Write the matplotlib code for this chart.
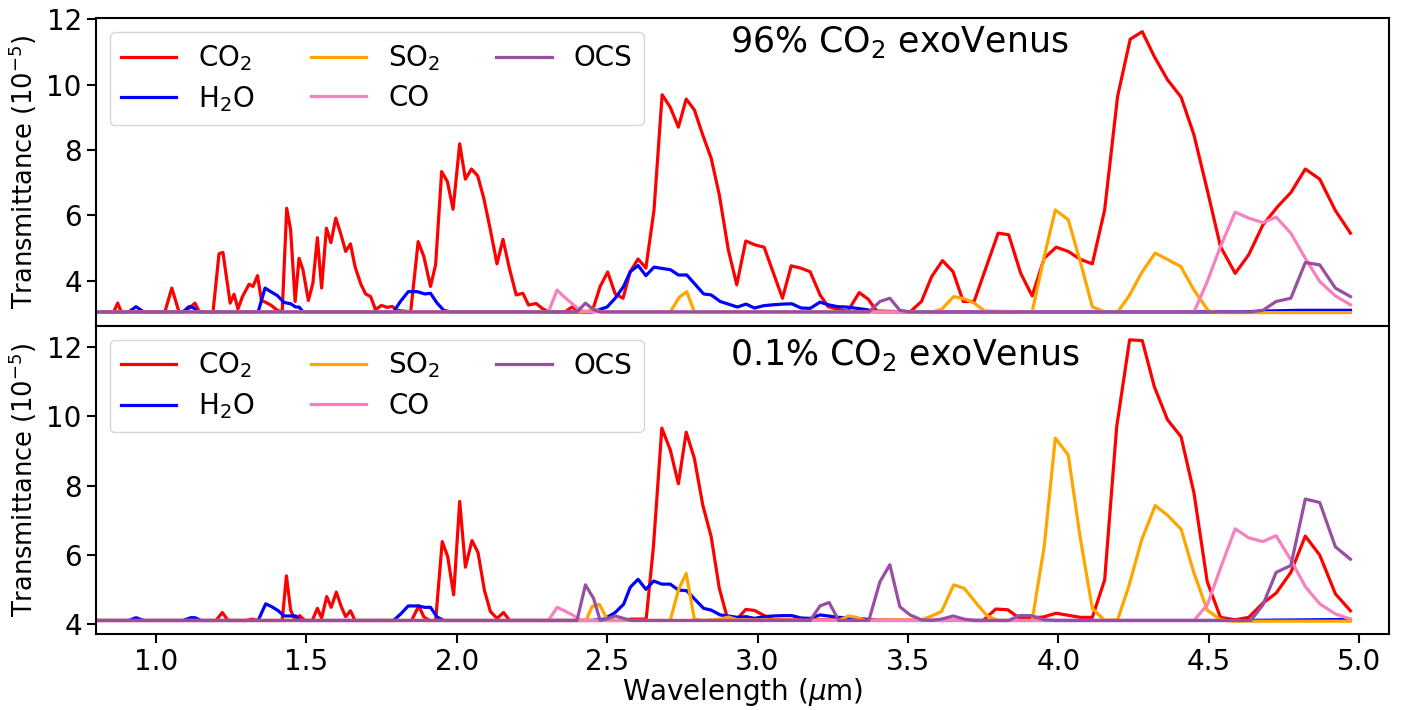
import matplotlib
matplotlib.use("Agg")
import matplotlib.pyplot as plt

# ---------------- data ----------------
species = ["CO$_2$", "H$_2$O", "SO$_2$", "CO", "OCS"]
colors = ["#ff0000", "#0000ff", "#ffa500", "#f781bf", "#984ea3"]
titles = ["96% CO$_2$ exoVenus", "0.1% CO$_2$ exoVenus"]
xticks = [1.0, 1.5, 2.0, 2.5, 3.0, 3.5, 4.0, 4.5, 5.0]
top_yticks = [4, 6, 8, 10, 12]
bot_yticks = [4, 6, 8, 10, 12]

# ---- top panel: 96% CO2 ----
co2_top_x = [0.80, 0.86, 0.873, 0.885, 1.03, 1.053, 1.077, 1.10, 1.13, 1.145, 1.19, 1.21, 1.223, 1.247, 1.26, 1.273, 1.288, 1.31, 1.323, 1.338, 1.351, 1.366, 1.382, 1.404, 1.42, 1.435, 1.448, 1.463, 1.476, 1.489, 1.507, 1.522, 1.537, 1.551, 1.567, 1.582, 1.598, 1.614, 1.631, 1.647, 1.662, 1.681, 1.697, 1.714, 1.730, 1.75, 1.769, 1.786, 1.802, 1.847, 1.872, 1.891, 1.913, 1.930, 1.950, 1.969, 1.988, 2.010, 2.029, 2.049, 2.07, 2.090, 2.112, 2.134, 2.154, 2.175, 2.198, 2.220, 2.239, 2.264, 2.284, 2.305, 2.36, 2.383, 2.41, 2.45, 2.477, 2.502, 2.527, 2.553, 2.577, 2.603, 2.629, 2.656, 2.683, 2.71, 2.737, 2.763, 2.790, 2.818, 2.846, 2.873, 2.903, 2.931, 2.961, 2.992, 3.022, 3.053, 3.083, 3.112, 3.144, 3.175, 3.208, 3.235, 3.267, 3.30, 3.338, 3.368, 3.396, 3.507, 3.545, 3.579, 3.615, 3.650, 3.684, 3.720, 3.755, 3.800, 3.835, 3.875, 3.913, 3.953, 3.993, 4.033, 4.073, 4.113, 4.154, 4.197, 4.239, 4.279, 4.319, 4.363, 4.408, 4.451, 4.495, 4.539, 4.588, 4.633, 4.680, 4.729, 4.773, 4.821, 4.869, 4.921, 4.971]
co2_top_y = [3.05, 3.05, 3.32, 3.05, 3.05, 3.78, 3.05, 3.08, 3.32, 3.05, 3.05, 4.83, 4.87, 3.32, 3.59, 3.14, 3.52, 3.90, 3.83, 4.16, 3.40, 3.34, 3.26, 3.10, 3.05, 6.22, 5.56, 3.37, 4.69, 4.34, 3.40, 3.93, 5.32, 3.78, 5.61, 5.17, 5.92, 5.46, 4.90, 5.13, 4.44, 3.91, 3.60, 3.52, 3.12, 3.25, 3.19, 3.22, 3.10, 3.05, 5.20, 4.74, 3.83, 4.49, 7.34, 7.04, 6.19, 8.19, 7.11, 7.42, 7.21, 6.53, 5.56, 4.52, 5.27, 4.39, 3.57, 3.62, 3.26, 3.31, 3.16, 3.05, 3.05, 3.20, 3.05, 3.05, 3.83, 4.27, 3.60, 3.47, 4.28, 4.67, 4.39, 6.17, 9.69, 9.31, 8.70, 9.56, 9.23, 8.46, 7.75, 6.63, 4.95, 3.88, 5.22, 5.10, 5.03, 4.24, 3.47, 4.46, 4.39, 4.28, 3.57, 3.21, 3.13, 3.07, 3.64, 3.44, 3.08, 3.05, 3.37, 4.13, 4.62, 4.28, 3.37, 3.37, 4.28, 5.46, 5.41, 4.23, 3.54, 4.69, 5.03, 4.90, 4.66, 4.52, 6.17, 9.64, 11.39, 11.62, 10.86, 10.15, 9.62, 8.46, 6.78, 5.05, 4.23, 4.80, 5.71, 6.27, 6.70, 7.42, 7.11, 6.15, 5.46]

h2o_top_x = [0.80, 0.91, 0.934, 0.96, 1.09, 1.11, 1.125, 1.14, 1.34, 1.363, 1.382, 1.404, 1.426, 1.448, 1.465, 1.476, 1.49, 1.79, 1.813, 1.839, 1.869, 1.894, 1.913, 1.935, 1.957, 1.98, 2.45, 2.50, 2.527, 2.555, 2.577, 2.603, 2.629, 2.656, 2.683, 2.711, 2.737, 2.765, 2.794, 2.821, 2.846, 2.876, 2.903, 2.933, 2.962, 2.99, 3.02, 3.053, 3.086, 3.114, 3.145, 3.175, 3.208, 3.235, 3.267, 3.296, 3.33, 3.363, 3.39, 4.60, 4.70, 4.80, 4.971]
h2o_top_y = [3.05, 3.05, 3.21, 3.05, 3.05, 3.21, 3.18, 3.05, 3.05, 3.78, 3.67, 3.55, 3.34, 3.30, 3.20, 3.20, 3.05, 3.05, 3.37, 3.67, 3.67, 3.60, 3.62, 3.32, 3.10, 3.05, 3.05, 3.20, 3.47, 3.83, 4.28, 4.47, 4.16, 4.42, 4.38, 4.34, 4.18, 4.18, 3.88, 3.60, 3.57, 3.37, 3.29, 3.20, 3.29, 3.17, 3.24, 3.27, 3.29, 3.30, 3.17, 3.16, 3.35, 3.27, 3.21, 3.20, 3.16, 3.12, 3.05, 3.05, 3.08, 3.10, 3.10]

so2_top_x = [0.80, 2.43, 2.455, 2.48, 2.71, 2.74, 2.765, 2.79, 3.58, 3.612, 3.652, 3.687, 3.719, 3.755, 3.913, 3.953, 3.990, 4.033, 4.073, 4.113, 4.154, 4.197, 4.234, 4.277, 4.322, 4.362, 4.407, 4.451, 4.499, 4.54, 4.971]
so2_top_y = [3.05, 3.05, 3.15, 3.05, 3.05, 3.50, 3.67, 3.05, 3.05, 3.13, 3.52, 3.45, 3.33, 3.08, 3.05, 4.74, 6.17, 5.87, 4.59, 3.21, 3.05, 3.05, 3.52, 4.25, 4.85, 4.66, 4.44, 3.72, 3.08, 3.03, 3.03]

co_top_x = [0.80, 2.305, 2.334, 2.356, 2.383, 2.41, 2.44, 4.451, 4.495, 4.539, 4.588, 4.633, 4.680, 4.724, 4.773, 4.821, 4.869, 4.921, 4.971]
co_top_y = [3.05, 3.05, 3.72, 3.52, 3.31, 3.10, 3.05, 3.05, 3.98, 5.05, 6.10, 5.92, 5.78, 5.95, 5.46, 4.69, 3.98, 3.54, 3.27]

ocs_top_x = [0.80, 2.40, 2.428, 2.455, 2.477, 3.37, 3.407, 3.44, 3.473, 3.507, 4.64, 4.680, 4.724, 4.773, 4.821, 4.869, 4.921, 4.971]
ocs_top_y = [3.05, 3.05, 3.32, 3.12, 3.05, 3.05, 3.37, 3.47, 3.10, 3.05, 3.05, 3.10, 3.37, 3.47, 4.56, 4.49, 3.78, 3.52]

# ---- bottom panel: 0.1% CO2 ----
co2_bot_x = [0.80, 1.20, 1.221, 1.24, 1.30, 1.32, 1.34, 1.42, 1.434, 1.448, 1.463, 1.478, 1.495, 1.52, 1.537, 1.551, 1.568, 1.583, 1.60, 1.617, 1.631, 1.647, 1.662, 1.85, 1.874, 1.891, 1.91, 1.93, 1.952, 1.970, 1.990, 2.010, 2.029, 2.051, 2.071, 2.092, 2.112, 2.134, 2.156, 2.176, 2.55, 2.58, 2.63, 2.654, 2.682, 2.71, 2.737, 2.763, 2.79, 2.818, 2.846, 2.873, 2.898, 2.93, 2.961, 2.99, 3.025, 3.053, 3.75, 3.792, 3.832, 3.872, 3.95, 3.993, 4.033, 4.073, 4.113, 4.154, 4.194, 4.237, 4.279, 4.319, 4.363, 4.408, 4.451, 4.495, 4.539, 4.588, 4.633, 4.680, 4.724, 4.773, 4.821, 4.869, 4.921, 4.971]
co2_bot_y = [4.10, 4.10, 4.33, 4.10, 4.10, 4.14, 4.10, 4.10, 5.39, 4.40, 4.10, 4.24, 4.10, 4.10, 4.45, 4.17, 4.79, 4.48, 4.92, 4.48, 4.21, 4.38, 4.10, 4.10, 4.52, 4.20, 4.10, 4.10, 6.38, 5.95, 4.84, 7.54, 5.64, 6.41, 6.06, 4.98, 4.36, 4.16, 4.33, 4.10, 4.10, 4.14, 4.14, 6.23, 9.66, 9.03, 8.05, 9.54, 8.79, 7.44, 6.52, 5.03, 4.23, 4.12, 4.42, 4.39, 4.23, 4.12, 4.10, 4.43, 4.41, 4.16, 4.20, 4.31, 4.25, 4.19, 4.19, 5.27, 9.70, 12.21, 12.19, 10.86, 9.90, 9.41, 7.78, 5.22, 4.19, 4.12, 4.19, 4.60, 4.89, 5.49, 6.54, 5.99, 4.87, 4.38]

h2o_bot_x = [0.80, 0.91, 0.934, 0.96, 1.09, 1.116, 1.13, 1.15, 1.34, 1.365, 1.385, 1.407, 1.426, 1.465, 1.48, 1.79, 1.813, 1.839, 1.872, 1.894, 1.913, 1.935, 1.957, 2.45, 2.49, 2.527, 2.555, 2.577, 2.603, 2.629, 2.655, 2.682, 2.71, 2.737, 2.765, 2.794, 2.821, 2.846, 2.876, 2.903, 2.933, 2.962, 2.99, 3.022, 3.053, 3.086, 3.114, 3.145, 3.175, 3.208, 3.235, 3.267, 3.296, 3.33, 3.36, 3.39, 4.60, 4.971]
h2o_bot_y = [4.10, 4.10, 4.18, 4.10, 4.10, 4.18, 4.18, 4.10, 4.10, 4.58, 4.50, 4.38, 4.23, 4.23, 4.10, 4.10, 4.28, 4.52, 4.52, 4.48, 4.48, 4.20, 4.10, 4.10, 4.14, 4.33, 4.57, 5.06, 5.29, 5.00, 5.24, 5.15, 5.15, 4.98, 4.96, 4.69, 4.45, 4.40, 4.26, 4.23, 4.19, 4.21, 4.16, 4.21, 4.23, 4.24, 4.24, 4.17, 4.16, 4.26, 4.23, 4.19, 4.18, 4.16, 4.14, 4.10, 4.10, 4.13]

so2_bot_x = [0.80, 2.43, 2.45, 2.474, 2.50, 2.53, 2.71, 2.737, 2.763, 2.79, 2.82, 2.876, 2.903, 2.933, 3.27, 3.302, 3.33, 3.36, 3.545, 3.579, 3.612, 3.652, 3.687, 3.727, 3.764, 3.80, 3.913, 3.953, 3.990, 4.033, 4.073, 4.113, 4.154, 4.197, 4.234, 4.277, 4.322, 4.362, 4.408, 4.451, 4.495, 4.539, 4.58, 4.971]
so2_bot_y = [4.10, 4.10, 4.50, 4.57, 4.14, 4.10, 4.10, 4.98, 5.46, 4.14, 4.10, 4.14, 4.20, 4.12, 4.10, 4.23, 4.19, 4.10, 4.12, 4.23, 4.36, 5.13, 5.03, 4.60, 4.23, 4.10, 4.10, 6.23, 9.37, 8.88, 6.48, 4.45, 4.10, 4.12, 5.08, 6.43, 7.42, 7.15, 6.74, 5.47, 4.40, 4.12, 4.08, 4.08]

co_bot_x = [0.80, 2.305, 2.334, 2.356, 2.383, 2.41, 2.44, 4.451, 4.495, 4.539, 4.588, 4.633, 4.680, 4.724, 4.773, 4.821, 4.869, 4.921, 4.971]
co_bot_y = [4.10, 4.10, 4.48, 4.39, 4.27, 4.12, 4.10, 4.10, 4.55, 5.61, 6.75, 6.49, 6.38, 6.55, 5.85, 5.08, 4.58, 4.29, 4.14]

ocs_bot_x = [0.80, 2.40, 2.428, 2.455, 2.477, 2.50, 2.527, 2.555, 2.58, 3.175, 3.208, 3.238, 3.27, 3.37, 3.407, 3.44, 3.473, 3.507, 3.545, 3.579, 3.612, 3.65, 3.687, 3.72, 3.835, 3.87, 3.91, 3.953, 3.99, 4.64, 4.680, 4.724, 4.773, 4.821, 4.869, 4.921, 4.971]
ocs_bot_y = [4.10, 4.10, 5.13, 4.74, 4.10, 4.15, 4.23, 4.16, 4.10, 4.10, 4.52, 4.62, 4.10, 4.10, 5.22, 5.71, 4.50, 4.26, 4.12, 4.10, 4.14, 4.23, 4.14, 4.10, 4.10, 4.24, 4.24, 4.12, 4.10, 4.10, 4.55, 5.49, 5.69, 7.61, 7.51, 6.23, 5.87]

top_series = [(co2_top_x, co2_top_y), (h2o_top_x, h2o_top_y), (so2_top_x, so2_top_y),
              (co_top_x, co_top_y), (ocs_top_x, ocs_top_y)]
bot_series = [(co2_bot_x, co2_bot_y), (h2o_bot_x, h2o_bot_y), (so2_bot_x, so2_bot_y),
              (co_bot_x, co_bot_y), (ocs_bot_x, ocs_bot_y)]

# ---------------- figure ----------------
plt.rcParams["font.family"] = ["DejaVu Sans"]
plt.rcParams["axes.linewidth"] = 1.5

fig = plt.figure(figsize=(14.01, 7.10), dpi=100)
ax_top = fig.add_axes([0.0683, 0.5413, 0.9233, 0.4330])
ax_bot = fig.add_axes([0.0683, 0.1066, 0.9233, 0.4347])

panels = [(ax_top, top_series, (2.63, 12.03), top_yticks, titles[0], 0.891),
          (ax_bot, bot_series, (3.70, 12.62), bot_yticks, titles[1], 0.873)]

for ax, series, ylim, yt, title, ty in panels:
    for (x, y), lab, col in zip(series, species, colors):
        ax.plot(x, y, color=col, lw=2.3, label=lab)
    ax.set_xlim(0.80, 5.10)
    ax.set_ylim(*ylim)
    ax.set_yticks(yt)
    ax.set_xticks(xticks)
    ax.tick_params(axis="both", labelsize=20, length=6.5, width=1.5)
    ax.set_ylabel("Transmittance (10$^{-5}$)", fontsize=18.5)
    ax.text(0.49, ty, title, transform=ax.transAxes, fontsize=25,
            ha="left", va="baseline")
    ax.legend(loc="upper left", ncol=3, fontsize=20, labelspacing=0.4)

ax_top.tick_params(axis="x", length=0, labelbottom=False)
ax_bot.set_xlabel("Wavelength ($\\mu$m)", fontsize=20, labelpad=0)
ax_top.yaxis.set_label_coords(-0.044, 0.5)
ax_bot.yaxis.set_label_coords(-0.044, 0.5)

fig.savefig("out.png", dpi=100)
